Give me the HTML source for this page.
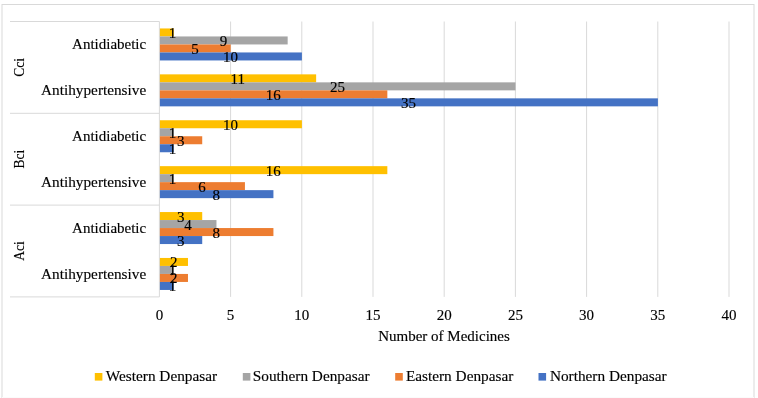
<!DOCTYPE html>
<html><head><meta charset="utf-8"><style>
html,body{margin:0;padding:0;background:#fff;width:758px;height:398px;overflow:hidden}
svg{display:block;will-change:transform}
.t{font-family:"Liberation Serif",serif;font-size:15px;fill:#000;stroke:#000;stroke-width:0.15px}
</style></head><body>
<svg width="758" height="398" viewBox="0 0 758 398">
<rect x="2" y="4.5" width="752" height="400" fill="none" stroke="#d9d9d9" stroke-width="1"/>
<line x1="2" y1="397.5" x2="754" y2="397.5" stroke="#fbfbfb" stroke-width="1"/>
<line x1="230.60" y1="21.5" x2="230.60" y2="296.9" stroke="#d9d9d9" stroke-width="1"/>
<line x1="301.80" y1="21.5" x2="301.80" y2="296.9" stroke="#d9d9d9" stroke-width="1"/>
<line x1="373.00" y1="21.5" x2="373.00" y2="296.9" stroke="#d9d9d9" stroke-width="1"/>
<line x1="444.20" y1="21.5" x2="444.20" y2="296.9" stroke="#d9d9d9" stroke-width="1"/>
<line x1="515.40" y1="21.5" x2="515.40" y2="296.9" stroke="#d9d9d9" stroke-width="1"/>
<line x1="586.60" y1="21.5" x2="586.60" y2="296.9" stroke="#d9d9d9" stroke-width="1"/>
<line x1="657.80" y1="21.5" x2="657.80" y2="296.9" stroke="#d9d9d9" stroke-width="1"/>
<line x1="729.00" y1="21.5" x2="729.00" y2="296.9" stroke="#d9d9d9" stroke-width="1"/>
<line x1="159.40" y1="21.5" x2="159.40" y2="296.9" stroke="#d9d9d9" stroke-width="1"/>
<line x1="10" y1="21.50" x2="159.40" y2="21.50" stroke="#d9d9d9" stroke-width="1"/>
<line x1="10" y1="113.30" x2="159.40" y2="113.30" stroke="#d9d9d9" stroke-width="1"/>
<line x1="10" y1="205.10" x2="159.40" y2="205.10" stroke="#d9d9d9" stroke-width="1"/>
<line x1="10" y1="296.90" x2="159.40" y2="296.90" stroke="#d9d9d9" stroke-width="1"/>
<rect x="159.90" y="28.45" width="13.84" height="8.0" fill="#FFC000"/>
<rect x="159.90" y="36.45" width="127.76" height="8.0" fill="#A5A5A5"/>
<rect x="159.90" y="44.45" width="70.80" height="8.0" fill="#ED7D31"/>
<rect x="159.90" y="52.45" width="142.00" height="8.0" fill="#4472C4"/>
<rect x="159.90" y="74.35" width="156.24" height="8.0" fill="#FFC000"/>
<rect x="159.90" y="82.35" width="355.60" height="8.0" fill="#A5A5A5"/>
<rect x="159.90" y="90.35" width="227.44" height="8.0" fill="#ED7D31"/>
<rect x="159.90" y="98.35" width="498.00" height="8.0" fill="#4472C4"/>
<rect x="159.90" y="120.25" width="142.00" height="8.0" fill="#FFC000"/>
<rect x="159.90" y="128.25" width="13.84" height="8.0" fill="#A5A5A5"/>
<rect x="159.90" y="136.25" width="42.32" height="8.0" fill="#ED7D31"/>
<rect x="159.90" y="144.25" width="13.84" height="8.0" fill="#4472C4"/>
<rect x="159.90" y="166.15" width="227.44" height="8.0" fill="#FFC000"/>
<rect x="159.90" y="174.15" width="13.84" height="8.0" fill="#A5A5A5"/>
<rect x="159.90" y="182.15" width="85.04" height="8.0" fill="#ED7D31"/>
<rect x="159.90" y="190.15" width="113.52" height="8.0" fill="#4472C4"/>
<rect x="159.90" y="212.05" width="42.32" height="8.0" fill="#FFC000"/>
<rect x="159.90" y="220.05" width="56.56" height="8.0" fill="#A5A5A5"/>
<rect x="159.90" y="228.05" width="113.52" height="8.0" fill="#ED7D31"/>
<rect x="159.90" y="236.05" width="42.32" height="8.0" fill="#4472C4"/>
<rect x="159.90" y="257.95" width="28.08" height="8.0" fill="#FFC000"/>
<rect x="159.90" y="265.95" width="13.84" height="8.0" fill="#A5A5A5"/>
<rect x="159.90" y="273.95" width="28.08" height="8.0" fill="#ED7D31"/>
<rect x="159.90" y="281.95" width="13.84" height="8.0" fill="#4472C4"/>
<text x="172.60" y="37.95" text-anchor="middle" class="t">1</text>
<text x="223.48" y="45.95" text-anchor="middle" class="t">9</text>
<text x="195.00" y="53.95" text-anchor="middle" class="t">5</text>
<text x="230.60" y="61.95" text-anchor="middle" class="t">10</text>
<text x="237.72" y="83.85" text-anchor="middle" class="t">11</text>
<text x="337.40" y="91.85" text-anchor="middle" class="t">25</text>
<text x="273.32" y="99.85" text-anchor="middle" class="t">16</text>
<text x="408.60" y="107.85" text-anchor="middle" class="t">35</text>
<text x="230.60" y="129.75" text-anchor="middle" class="t">10</text>
<text x="172.60" y="137.75" text-anchor="middle" class="t">1</text>
<text x="180.76" y="145.75" text-anchor="middle" class="t">3</text>
<text x="172.60" y="153.75" text-anchor="middle" class="t">1</text>
<text x="273.32" y="175.65" text-anchor="middle" class="t">16</text>
<text x="172.60" y="183.65" text-anchor="middle" class="t">1</text>
<text x="202.12" y="191.65" text-anchor="middle" class="t">6</text>
<text x="216.36" y="199.65" text-anchor="middle" class="t">8</text>
<text x="180.76" y="221.55" text-anchor="middle" class="t">3</text>
<text x="187.88" y="229.55" text-anchor="middle" class="t">4</text>
<text x="216.36" y="237.55" text-anchor="middle" class="t">8</text>
<text x="180.76" y="245.55" text-anchor="middle" class="t">3</text>
<text x="173.64" y="267.45" text-anchor="middle" class="t">2</text>
<text x="172.60" y="275.45" text-anchor="middle" class="t">1</text>
<text x="173.64" y="283.45" text-anchor="middle" class="t">2</text>
<text x="172.60" y="291.45" text-anchor="middle" class="t">1</text>
<text transform="translate(146.2 49.45) scale(1.0 1)" x="0" y="0" text-anchor="end" class="t">Antidiabetic</text>
<text transform="translate(146.2 95.35) scale(1.018 1)" x="0" y="0" text-anchor="end" class="t">Antihypertensive</text>
<text transform="translate(146.2 141.25) scale(1.0 1)" x="0" y="0" text-anchor="end" class="t">Antidiabetic</text>
<text transform="translate(146.2 187.15) scale(1.018 1)" x="0" y="0" text-anchor="end" class="t">Antihypertensive</text>
<text transform="translate(146.2 233.05) scale(1.0 1)" x="0" y="0" text-anchor="end" class="t">Antidiabetic</text>
<text transform="translate(146.2 278.95) scale(1.018 1)" x="0" y="0" text-anchor="end" class="t">Antihypertensive</text>
<text transform="translate(24.3 67.40) rotate(-90) scale(0.9 1)" x="0" y="0" text-anchor="middle" class="t">Cci</text>
<text transform="translate(24.3 159.20) rotate(-90) scale(0.9 1)" x="0" y="0" text-anchor="middle" class="t">Bci</text>
<text transform="translate(24.3 251.00) rotate(-90) scale(0.9 1)" x="0" y="0" text-anchor="middle" class="t">Aci</text>
<text x="159.40" y="319.7" text-anchor="middle" class="t">0</text>
<text x="230.60" y="319.7" text-anchor="middle" class="t">5</text>
<text x="301.80" y="319.7" text-anchor="middle" class="t">10</text>
<text x="373.00" y="319.7" text-anchor="middle" class="t">15</text>
<text x="444.20" y="319.7" text-anchor="middle" class="t">20</text>
<text x="515.40" y="319.7" text-anchor="middle" class="t">25</text>
<text x="586.60" y="319.7" text-anchor="middle" class="t">30</text>
<text x="657.80" y="319.7" text-anchor="middle" class="t">35</text>
<text x="729.00" y="319.7" text-anchor="middle" class="t">40</text>
<text x="444" y="340.7" text-anchor="middle" class="t">Number of Medicines</text>
<rect x="94.80" y="373" width="7.6" height="7.6" fill="#FFC000"/>
<text x="105.8" y="380.8" class="t" style="font-size:15.3px">Western Denpasar</text>
<rect x="242.80" y="373" width="7.6" height="7.6" fill="#A5A5A5"/>
<text x="252.8" y="380.8" class="t" style="font-size:15.3px">Southern Denpasar</text>
<rect x="395.20" y="373" width="7.6" height="7.6" fill="#ED7D31"/>
<text x="405.9" y="380.8" class="t" style="font-size:15.3px">Eastern Denpasar</text>
<rect x="538.50" y="373" width="7.6" height="7.6" fill="#4472C4"/>
<text x="549.9" y="380.8" class="t" style="font-size:15.3px">Northern Denpasar</text>
</svg></body></html>
